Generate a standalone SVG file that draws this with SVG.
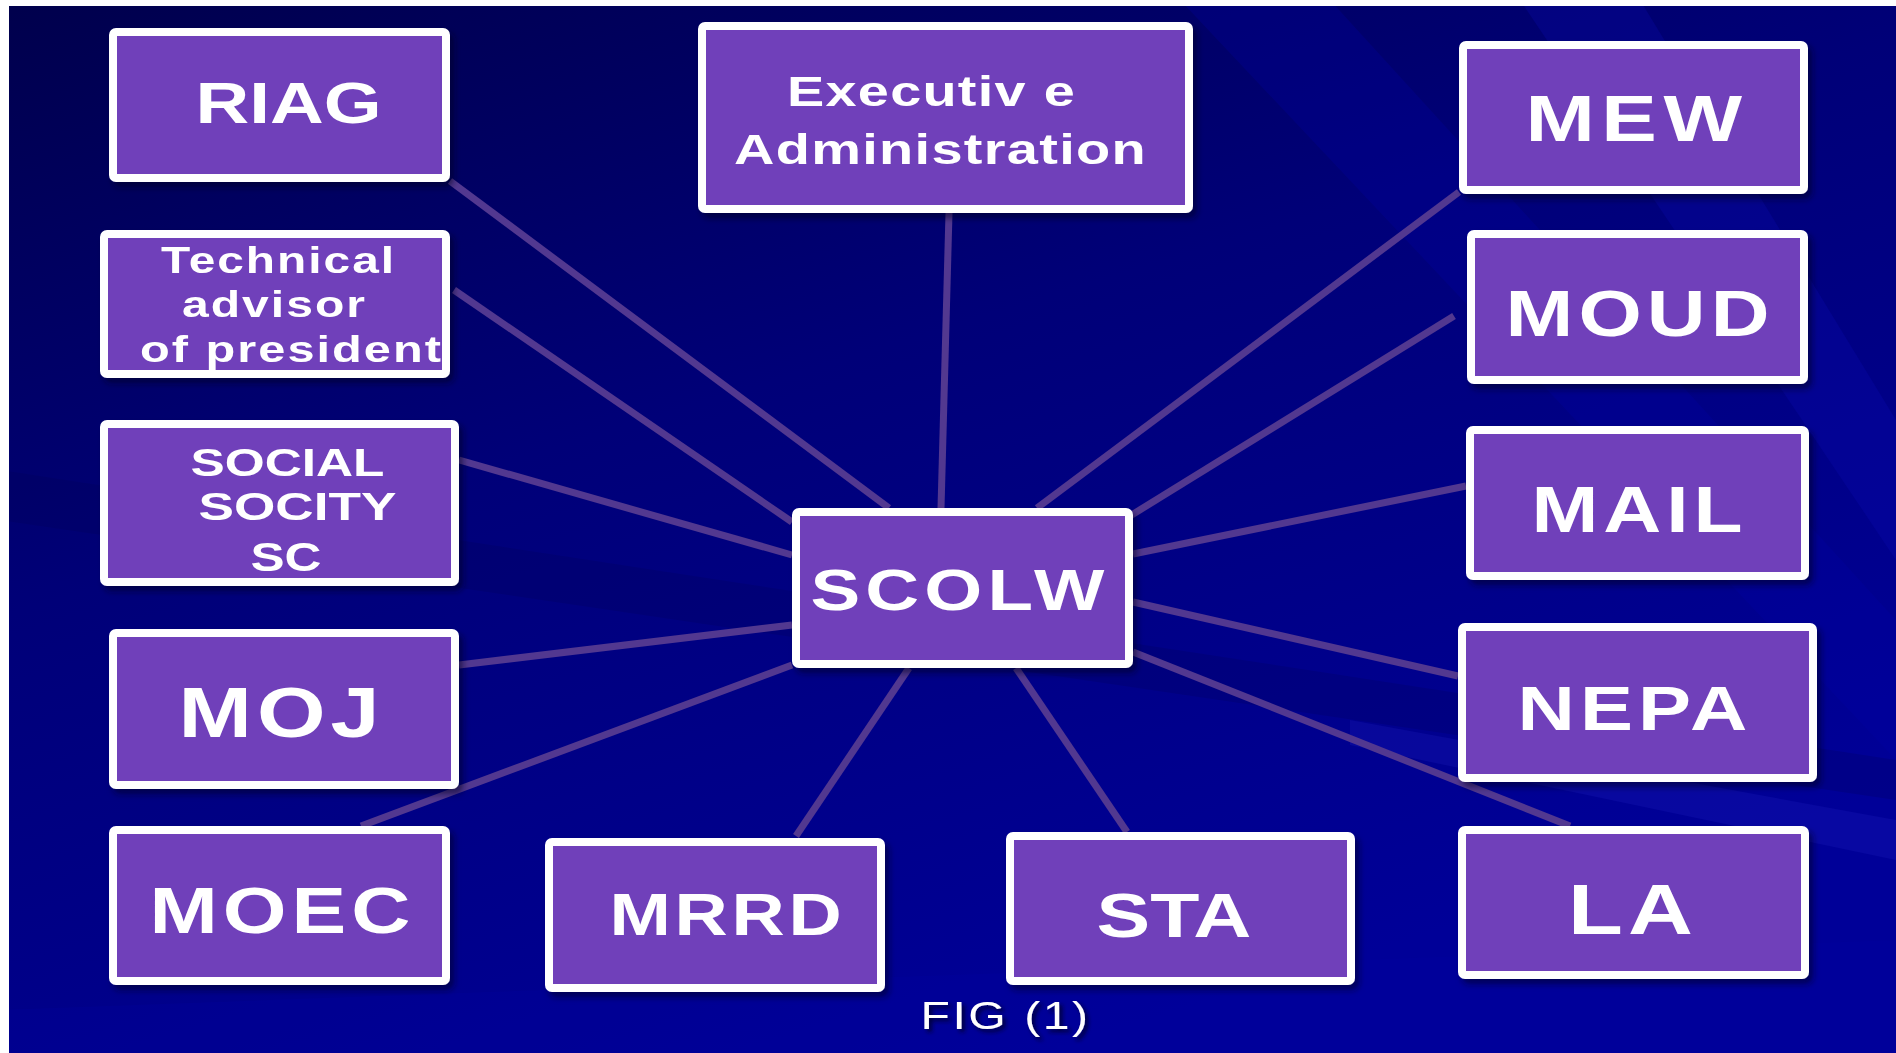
<svg xmlns="http://www.w3.org/2000/svg" width="1896" height="1053" viewBox="0 0 1896 1053">
<defs>
<linearGradient id="bg" x1="0" y1="0" x2="0.55" y2="1">
<stop offset="0" stop-color="#00004c"/>
<stop offset="0.45" stop-color="#000078"/>
<stop offset="1" stop-color="#000098"/>
</linearGradient>
<filter id="sh" x="-5%" y="-5%" width="115%" height="120%">
<feDropShadow dx="4" dy="5" stdDeviation="3" flood-color="#000020" flood-opacity="0.55"/>
</filter>
<filter id="tsh" x="-10%" y="-20%" width="130%" height="160%">
<feDropShadow dx="3" dy="3" stdDeviation="2" flood-color="#000020" flood-opacity="0.8"/>
</filter>
</defs>
<style>
.box{fill:#7041ba;stroke:#ffffff;stroke-width:8;}
.lbl{font-family:"Liberation Sans",Arial,sans-serif;font-weight:bold;fill:#ffffff;text-anchor:middle;}
.con line{stroke:#523890;stroke-width:7;stroke-linecap:butt;}
.cap{font-family:"Liberation Sans",Arial,sans-serif;fill:#ffffff;text-anchor:middle;}
</style>
<rect x="0" y="0" width="1896" height="1053" fill="url(#bg)"/>
<g id="background-streaks">
<polygon points="1180,0 1330,0 1896,620 1896,760" fill="#0000a8" opacity="0.25"/>
<polygon points="1520,0 1640,0 1896,420 1896,560" fill="#0a0ab8" opacity="0.25"/>
<polygon points="0,470 1896,760 1896,800 0,520" fill="#000050" opacity="0.2"/>
<polygon points="1350,720 1896,820 1896,860 1350,745" fill="#2020c0" opacity="0.25"/>
<polygon points="0,1010 1896,940 1896,1053 0,1053" fill="#0000a0" opacity="0.25"/>
</g>
<rect x="0" y="0" width="1896" height="6" fill="#ffffff"/>
<rect x="0" y="0" width="9" height="1053" fill="#ffffff"/>
<g id="connectors" class="con">
<line x1="450" y1="181" x2="889" y2="508"/>
<line x1="454" y1="290" x2="792" y2="522"/>
<line x1="459" y1="460" x2="792" y2="555"/>
<line x1="459" y1="665" x2="792" y2="625"/>
<line x1="361" y1="826" x2="792" y2="665"/>
<line x1="796" y1="836" x2="909" y2="668"/>
<line x1="1127" y1="832" x2="1016" y2="668"/>
<line x1="1570" y1="826" x2="1133" y2="652"/>
<line x1="1458" y1="676" x2="1133" y2="602"/>
<line x1="1466" y1="486" x2="1133" y2="554"/>
<line x1="1454" y1="316" x2="1130" y2="516"/>
<line x1="1459" y1="192" x2="1037" y2="508"/>
<line x1="949" y1="213" x2="941" y2="508"/>
</g>
<g id="node-riag" filter="url(#sh)">
<rect class="box" x="113" y="32" width="333" height="146" rx="3"/>
<text class="lbl" x="288.5" y="123" font-size="57" textLength="186" lengthAdjust="spacingAndGlyphs">RIAG</text>
</g>
<g id="node-technical" filter="url(#sh)">
<rect class="box" x="104" y="234" width="342" height="140" rx="3"/>
<text class="lbl" x="278.5" y="273" font-size="36" letter-spacing="1.5" textLength="235" lengthAdjust="spacingAndGlyphs">Technical</text>
<text class="lbl" x="274.5" y="317" font-size="36" letter-spacing="1.5" textLength="185" lengthAdjust="spacingAndGlyphs">advisor</text>
<text class="lbl" x="291.5" y="362" font-size="36" letter-spacing="1.5" textLength="303" lengthAdjust="spacingAndGlyphs">of president</text>
</g>
<g id="node-social" filter="url(#sh)">
<rect class="box" x="104" y="424" width="351" height="158" rx="3"/>
<text class="lbl" x="287.5" y="476" font-size="39" textLength="194" lengthAdjust="spacingAndGlyphs">SOCIAL</text>
<text class="lbl" x="297.5" y="520" font-size="39" textLength="198" lengthAdjust="spacingAndGlyphs">SOCITY</text>
<text class="lbl" x="286" y="571" font-size="40" textLength="71" lengthAdjust="spacingAndGlyphs">SC</text>
</g>
<g id="node-moj" filter="url(#sh)">
<rect class="box" x="113" y="633" width="342" height="152" rx="3"/>
<text class="lbl" x="281.5" y="737" font-size="70" letter-spacing="4" textLength="206" lengthAdjust="spacingAndGlyphs">MOJ</text>
</g>
<g id="node-moec" filter="url(#sh)">
<rect class="box" x="113" y="830" width="333" height="151" rx="3"/>
<text class="lbl" x="282.5" y="933" font-size="65" letter-spacing="4" textLength="266" lengthAdjust="spacingAndGlyphs">MOEC</text>
</g>
<g id="node-mrrd" filter="url(#sh)">
<rect class="box" x="549" y="842" width="332" height="146" rx="3"/>
<text class="lbl" x="727.5" y="935" font-size="59" letter-spacing="3" textLength="236" lengthAdjust="spacingAndGlyphs">MRRD</text>
</g>
<g id="node-sta" filter="url(#sh)">
<rect class="box" x="1010" y="836" width="341" height="145" rx="3"/>
<text class="lbl" x="1174" y="937" font-size="63" textLength="155" lengthAdjust="spacingAndGlyphs">STA</text>
</g>
<g id="node-la" filter="url(#sh)">
<rect class="box" x="1462" y="830" width="343" height="145" rx="3"/>
<text class="lbl" x="1633" y="934" font-size="70" letter-spacing="4" textLength="130" lengthAdjust="spacingAndGlyphs">LA</text>
</g>
<g id="node-nepa" filter="url(#sh)">
<rect class="box" x="1462" y="627" width="351" height="151" rx="3"/>
<text class="lbl" x="1635" y="730" font-size="63" letter-spacing="4" textLength="235" lengthAdjust="spacingAndGlyphs">NEPA</text>
</g>
<g id="node-mail" filter="url(#sh)">
<rect class="box" x="1470" y="430" width="335" height="146" rx="3"/>
<text class="lbl" x="1639.5" y="532" font-size="65" letter-spacing="4" textLength="216" lengthAdjust="spacingAndGlyphs">MAIL</text>
</g>
<g id="node-moud" filter="url(#sh)">
<rect class="box" x="1471" y="234" width="333" height="146" rx="3"/>
<text class="lbl" x="1640" y="336" font-size="64" letter-spacing="4" textLength="269" lengthAdjust="spacingAndGlyphs">MOUD</text>
</g>
<g id="node-mew" filter="url(#sh)">
<rect class="box" x="1463" y="45" width="341" height="145" rx="3"/>
<text class="lbl" x="1637" y="141" font-size="64" letter-spacing="5" textLength="223" lengthAdjust="spacingAndGlyphs">MEW</text>
</g>
<g id="node-executive" filter="url(#sh)">
<rect class="box" x="702" y="26" width="487" height="183" rx="3"/>
<text class="lbl" x="931.5" y="106" font-size="43" letter-spacing="1" textLength="289" lengthAdjust="spacingAndGlyphs">Executiv e</text>
<text class="lbl" x="940.5" y="164" font-size="43" letter-spacing="1" textLength="413" lengthAdjust="spacingAndGlyphs">Administration</text>
</g>
<g id="node-scolw" filter="url(#sh)">
<rect class="box" x="796" y="512" width="333" height="152" rx="3"/>
<text class="lbl" x="960" y="610" font-size="58" letter-spacing="4" textLength="299" lengthAdjust="spacingAndGlyphs">SCOLW</text>
</g>
<text class="cap" x="1005.5" y="1029" font-size="38" letter-spacing="2" textLength="170" lengthAdjust="spacingAndGlyphs" filter="url(#tsh)">FIG (1)</text>
</svg>
